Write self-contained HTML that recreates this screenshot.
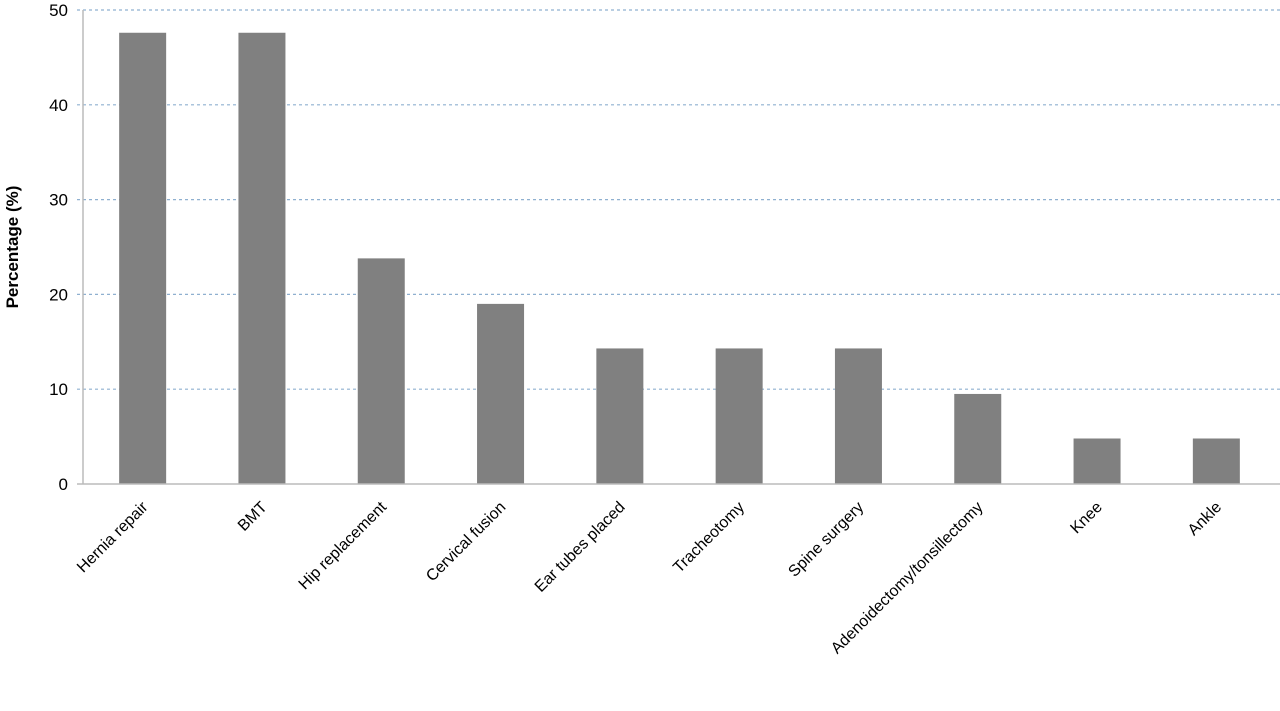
<!DOCTYPE html>
<html><head><meta charset="utf-8"><style>
html,body{margin:0;padding:0;background:#fff;width:1280px;height:711px;overflow:hidden}
svg text{font-family:"Liberation Sans",sans-serif;fill:#000}
</style></head><body>
<svg id="chart" width="1280" height="711" xmlns="http://www.w3.org/2000/svg">
<g id="grid"></g>
<g id="bars"></g>
<g id="axes"></g>
<text transform="translate(18,247) rotate(-90)" text-anchor="middle" font-size="17" font-weight="bold">Percentage (%)</text>
</svg>
<script>
const categories=["Hernia repair","BMT","Hip replacement","Cervical fusion","Ear tubes placed","Tracheotomy","Spine surgery","Adenoidectomy/tonsillectomy","Knee","Ankle"];
const values=[47.6,47.6,23.8,19.0,14.3,14.3,14.3,9.5,4.8,4.8];
const yTicks=[0,10,20,30,40,50];
const NS="http://www.w3.org/2000/svg";
const x0=83,x1=1276,y0=484,yTop=10,yMax=50;
const band=(x1-x0)/categories.length,barW=47;
function y(v){return y0-(v/yMax)*(y0-yTop);}
function xc(i){return x0+band*(i+0.5);}
function mk(tag,attrs,parent){const e=document.createElementNS(NS,tag);for(const k in attrs)e.setAttribute(k,attrs[k]);parent.appendChild(e);return e;}
const grid=document.getElementById('grid'),bars=document.getElementById('bars'),axes=document.getElementById('axes');
yTicks.forEach(t=>{
  if(t>0){const l=mk('line',{x1:x0-6,x2:1280,y1:y(t),y2:y(t),stroke:'#8fb0d0','stroke-width':1.2,'stroke-dasharray':'3,3'},grid);
  
  }
  const tx=mk('text',{x:68,y:y(t)+6,'text-anchor':'end','font-size':17},axes);
  tx.textContent=t;
  
  
});
values.forEach((v,i)=>{
  const r=mk('rect',{x:xc(i)-barW/2,y:y(v),width:barW,height:y0-y(v),fill:'#808080'},bars);
  
  
  const t=mk('text',{transform:`translate(${xc(i)+6},${y0+24}) rotate(-45)`,'text-anchor':'end','font-size':16},axes);
  t.textContent=categories[i];
  
  
});
const ya=mk('line',{x1:x0,x2:x0,y1:yTop,y2:y0,stroke:'#bbb','stroke-width':1.5},axes);


const xa=mk('line',{x1:x0-6,x2:1280,y1:y0,y2:y0,stroke:'#bbb','stroke-width':1.5},axes);


</script>
</body></html>
